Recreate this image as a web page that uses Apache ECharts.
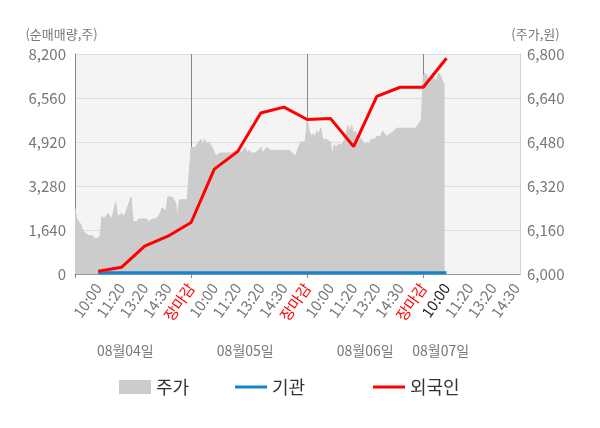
<!DOCTYPE html>
<html>
<head>
<meta charset="utf-8">
<script src="https://cdn.jsdelivr.net/npm/echarts@6/dist/echarts.min.js"></script>
<style>
    html, body { margin: 0; padding: 0; background: #fff; }
    #chart { width: 600px; height: 428px; }
</style>
</head>
<body>
<div id="chart"></div>
<script>
    // x axis: 60 slots per trading day, a tick label every 12 slots
    const slotTicks = ["10:00", "11:20", "13:20", "14:30", "장마감"];
    const dayNames = ["08월04일", "08월05일", "08월06일", "08월07일"];
    const dayLabelSlots = [26, 88, 150, 189];
    const slotCount = 231;

    // 주가 (원), one value per slot
    const priceDay1 = [
        6240, 6200, 6200, 6180, 6160, 6150, 6150, 6140, 6140, 6140,
        6130, 6130, 6130, 6140, 6210, 6200, 6210, 6220, 6210, 6200,
        6230, 6260, 6210, 6210, 6220, 6210, 6220, 6220, 6260, 6280,
        6190, 6190, 6190, 6200, 6200, 6200, 6200, 6200, 6190, 6190,
        6200, 6200, 6200, 6200, 6220, 6240, 6240, 6230, 6280, 6280,
        6280, 6270, 6260, 6210, 6270, 6270, 6270, 6270, 6270, 6270
    ];
    const priceDay2 = [
        6460, 6460, 6460, 6470, 6470, 6490, 6470, 6490, 6470, 6480,
        6480, 6460, 6440, 6430, 6430, 6440, 6440, 6440, 6440, 6440,
        6440, 6440, 6440, 6450, 6450, 6450, 6440, 6450, 6460, 6440,
        6450, 6440, 6440, 6440, 6440, 6450, 6460, 6440, 6450, 6460,
        6460, 6450, 6450, 6450, 6450, 6450, 6450, 6450, 6450, 6450,
        6450, 6450, 6440, 6440, 6430, 6450, 6470, 6480, 6480, 6480
    ];
    const priceDay3 = [
        6560, 6520, 6500, 6510, 6500, 6520, 6510, 6530, 6490, 6490,
        6490, 6490, 6480, 6430, 6470, 6460, 6470, 6470, 6470, 6470,
        6500, 6540, 6520, 6540, 6510, 6520, 6490, 6500, 6490, 6480,
        6470, 6480, 6470, 6490, 6490, 6490, 6500, 6500, 6500, 6520,
        6510, 6500, 6500, 6510, 6510, 6520, 6530, 6530, 6530, 6530,
        6530, 6530, 6530, 6530, 6530, 6530, 6530, 6530, 6550, 6560
    ];
    const priceDay4 = [6720, 6730, 6720, 6700, 6720, 6730, 6700, 6710, 6730, 6720, 6700, 6690];

    // 순매매량 (주), one value per labelled tick (slot 12, 24, ... 192)
    const instNet = [50, 50, 50, 50, 50, 50, 50, 50, 50, 50, 50, 50, 50, 50, 50, 50];
    const foreignNet = [100, 250, 1040, 1410, 1920, 3910, 4560, 6000, 6220, 5760, 5800, 4750, 6620, 6960, 6960, 8040];

    const FONT = "'Noto Sans CJK KR', 'Noto Sans', sans-serif";
    const GRAY = "#777";

    let slotNames = [];
    for (let i = 0; i < slotCount; i++) slotNames.push(String(i));

    function tickText(i) {
        if (i <= 0 || i % 12 !== 0) return "";
        return slotTicks[(i / 12 - 1) % slotTicks.length];
    }

    function perTick(values) {
        let out = new Array(slotCount).fill(null);
        values.forEach((v, k) => { out[(k + 1) * 12] = v; });
        return out;
    }

    let priceData = [].concat(priceDay1, priceDay2, priceDay3, priceDay4);

    const chart = echarts.init(document.getElementById("chart"), null, { renderer: "canvas" });

    chart.setOption({
        animation: false,
        textStyle: { fontFamily: FONT },
        grid: {
            left: 75, right: 80, top: 54, bottom: 154,
            show: true, backgroundColor: "#f4f4f4", borderWidth: 0
        },
        legend: [
            { data: ["주가"], left: 114, top: 373, icon: "rect", itemWidth: 32, itemHeight: 14,
              textStyle: { fontSize: 18, color: "#333", fontFamily: FONT } },
            { data: ["기관"], left: 230, top: 373, icon: "rect", itemWidth: 32, itemHeight: 3,
              textStyle: { fontSize: 18, color: "#333", fontFamily: FONT } },
            { data: ["외국인"], left: 368, top: 373, icon: "rect", itemWidth: 32, itemHeight: 3,
              textStyle: { fontSize: 18, color: "#333", fontFamily: FONT } }
        ],
        xAxis: [
            {
                type: "category",
                data: slotNames,
                boundaryGap: false,
                axisLine: { lineStyle: { color: "#999" } },
                axisTick: {
                    show: true, length: 4,
                    interval: (i) => i % 60 === 0,
                    lineStyle: { color: "#888" }
                },
                splitLine: {
                    show: true,
                    interval: (i) => i > 0 && i % 60 === 0,
                    lineStyle: { color: "#888", width: 1 }
                },
                axisLabel: {
                    interval: (i) => i > 0 && i % 12 === 0,
                    rotate: 55,
                    margin: 11,
                    fontSize: 15,
                    fontFamily: FONT,
                    formatter: (v) => tickText(parseInt(v, 10)),
                    color: (v) => {
                        let i = parseInt(v, 10);
                        if (tickText(i) === "장마감") return "#ff0000";
                        if (i === 192) return "#222";
                        return GRAY;
                    }
                }
            },
            {
                type: "category",
                data: slotNames,
                boundaryGap: false,
                position: "bottom",
                offset: 62,
                axisLine: { show: false },
                axisTick: { show: false },
                splitLine: { show: false },
                axisLabel: {
                    interval: (i) => dayLabelSlots.indexOf(i) >= 0,
                    fontSize: 14,
                    fontFamily: FONT,
                    color: GRAY,
                    formatter: (v) => {
                        let k = dayLabelSlots.indexOf(parseInt(v, 10));
                        return k >= 0 ? dayNames[k] : "";
                    }
                }
            }
        ],
        yAxis: [
            {
                type: "value",
                position: "left",
                min: 0, max: 8200, interval: 1640,
                name: "(순매매량,주)",
                nameLocation: "end",
                nameGap: 13,
                nameTextStyle: { color: GRAY, fontSize: 13, fontFamily: FONT, padding: [0, 27, 0, 0] },
                axisLine: { show: true, lineStyle: { color: "#888" } },
                axisTick: { show: false },
                splitLine: { lineStyle: { color: "#dcdcdc" } },
                axisLabel: { color: GRAY, fontSize: 15, margin: 9, fontFamily: FONT }
            },
            {
                type: "value",
                position: "right",
                min: 6000, max: 6800, interval: 160,
                name: "(주가,원)",
                nameLocation: "end",
                nameGap: 13,
                nameTextStyle: { color: GRAY, fontSize: 13, fontFamily: FONT, padding: [0, 0, 0, 31] },
                axisLine: { show: true, lineStyle: { color: "#d0d0d0" } },
                axisTick: { show: false },
                splitLine: { show: false },
                axisLabel: { color: GRAY, fontSize: 15, margin: 7, fontFamily: FONT }
            }
        ],
        series: [
            {
                name: "주가",
                type: "line",
                yAxisIndex: 1,
                data: priceData,
                symbol: "none",
                lineStyle: { width: 1, color: "#cccccc" },
                itemStyle: { color: "#cccccc" },
                areaStyle: { color: "#cccccc", opacity: 1 },
                z: 1
            },
            {
                name: "기관",
                type: "line",
                yAxisIndex: 0,
                data: perTick(instNet),
                connectNulls: true,
                symbol: "none",
                lineStyle: { width: 3, color: "#1583d0" },
                itemStyle: { color: "#1583d0" },
                z: 3
            },
            {
                name: "외국인",
                type: "line",
                yAxisIndex: 0,
                data: perTick(foreignNet),
                connectNulls: true,
                symbol: "none",
                lineStyle: { width: 3, color: "#ff0000" },
                itemStyle: { color: "#ff0000" },
                z: 4
            }
        ]
    });
</script>
</body>
</html>
